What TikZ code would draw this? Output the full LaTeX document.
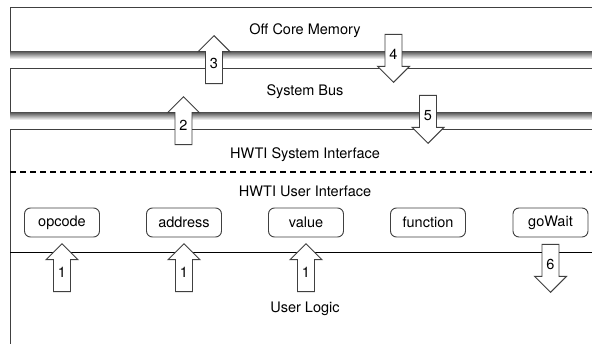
\documentclass[tikz,border=0pt]{standalone}
\usepackage{fontspec}
\setmainfont{TeX Gyre Heros}
\usetikzlibrary{shapes.arrows}

\begin{document}
\begin{tikzpicture}[
  x=1pt, y=-1pt,
  font=\fontsize{14.5}{17}\selectfont,
  layer/.style={
    rectangle, draw=black!75, line width=1pt, fill=white,
    minimum width=590pt, inner sep=0pt, text depth=0pt
  },
  field/.style={
    rectangle, rounded corners=6pt, draw=black!75, line width=0.9pt,
    minimum width=75pt, minimum height=29pt, inner sep=0pt
  },
  flow/.style={
    single arrow, draw=black!75, line width=0.9pt, fill=white,
    minimum height=48pt, minimum width=31pt,
    single arrow head extend=7.5pt, inner xsep=4pt, inner ysep=4pt
  },
  goup/.style={flow, shape border rotate=90, anchor=tip},
  godown/.style={flow, shape border rotate=270, anchor=tip},
  shadowbar/.style={top color=black!65, bottom color=white},
  divider/.style={line width=1.4pt, dash pattern=on 6pt off 4pt},
]
\useasboundingbox (0,0) rectangle (592,343);
\clip (0,0) rectangle (592,343);

% Layers
\node[layer, minimum height=44pt] (mem) at (305,29) {Off Core Memory};
\node[layer, minimum height=44pt] (bus) at (305,90) {System Bus};
\node[layer, minimum height=231pt] (hwti) at (305,244.5) {};
\shade[shadowbar] (10,51.5) rectangle (600,59);
\shade[shadowbar] (10,112.5) rectangle (600,120);

% HWTI interfaces
\node (sysif) at (305,155) {HWTI System Interface};
\draw[divider] (10,172) -- (600,172);
\node (userif) at (305,191) {HWTI User Interface};
\draw[line width=1pt] (10,252) -- (600,252);
\node (logic) at (305,309) {User Logic};

% Registers
\node[field] (opcode)   at (62,222.5)  {opcode};
\node[field] (address)  at (184,222.5) {address};
\node[field] (value)    at (306,222.5) {value};
\node[field] (function) at (428,222.5) {function};
\node[field] (gowait)   at (550.5,222.5) {goWait};

% Data flow
\node[goup]   (ar3) at (214,35)    {3};
\node[godown] (ar4) at (393.5,83)  {4};
\node[goup]   (ar2) at (183.5,96)  {2};
\node[godown] (ar5) at (428,144)   {5};
\node[goup]   (ar1a) at (62,243)   {1};
\node[goup]   (ar1b) at (184,243)  {1};
\node[goup]   (ar1c) at (306,243)  {1};
\node[godown] (ar6) at (550.5,293) {6};

\end{tikzpicture}
\end{document}
